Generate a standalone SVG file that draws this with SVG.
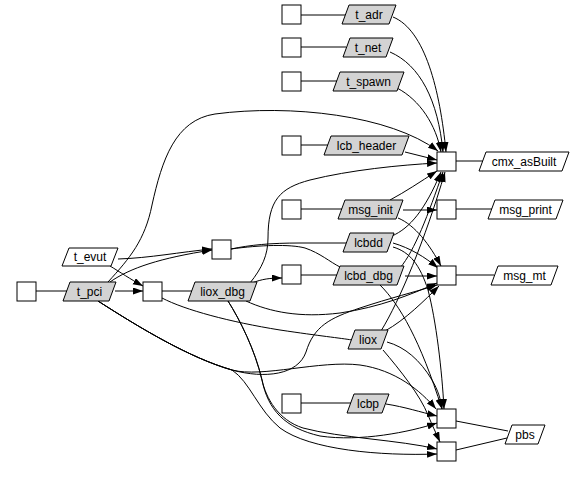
<svg xmlns="http://www.w3.org/2000/svg" width="585" height="481" viewBox="0 0 585 481">
<style>
.sq{fill:#fff;stroke:#000;stroke-width:1}
.f{fill:#d3d3d3;stroke:#000;stroke-width:1}
.w{fill:#fff;stroke:#000;stroke-width:1}
text{font-family:"Liberation Sans",Arial,sans-serif;font-size:12px;text-anchor:middle;fill:#000}
#edges path{fill:none;stroke:#000;stroke-width:1}
#edges path.a{marker-end:url(#ah)}
</style>
<defs>
<marker id="ah" markerUnits="userSpaceOnUse" markerWidth="11" markerHeight="8" refX="10" refY="3.5" orient="auto">
<path d="M0,0 L10,3.5 L0,7 Z" fill="#000"/>
</marker>
</defs>
<rect width="585" height="481" fill="#fff"/>
<g id="edges">
<!-- producer lines (square to file) -->
<path d="M301,15 L345,15"/>
<path d="M301,47 L346,47"/>
<path d="M301,81 L337,81"/>
<path d="M301,145 L328,145"/>
<path d="M301,209 L342,209"/>
<path d="M36,291 L67,291"/>
<path d="M162,291 L192,291"/>
<path d="M231,249 C250,245 270,243 300,243 L346,243"/>
<path d="M231,249 C260,245 290,244 305,248 C320,253 330,262 340,267"/>
<path d="M162,298 C185,310 230,322 280,330 C320,336 340,338 352,340"/>
<path d="M301,275 L337,275"/>
<path d="M301,403 L351,403"/>
<path d="M456,161 L483,161"/>
<path d="M456,209 L492,209"/>
<path d="M456,275 L494,275"/>
<path d="M456,421 L508,431"/>
<path d="M456,450 L507,438"/>
<!-- consumer edges (file to square) -->
<path class="a" d="M393,17 C425,30 440,90 446,152"/>
<path class="a" d="M390,52 C420,65 438,100 443,152"/>
<path class="a" d="M397,88 C420,100 436,125 441,152"/>
<path class="a" d="M108,282 C130,258 145,240 152,205 C162,160 175,120 215,114 C290,104 390,115 438,151"/>
<path class="a" d="M405,152 L437,160"/>
<path class="a" d="M250,283 C262,268 268,255 268,238 C268,200 280,188 310,180 C350,170 400,165 437,163"/>
<path class="a" d="M390,200 C405,192 420,182 437,171"/>
<path class="a" d="M392,236 C410,228 425,210 441,172"/>
<path class="a" d="M400,268 C415,250 428,215 443,172"/>
<path class="a" d="M381,331 C400,300 425,240 445,172"/>
<path class="a" d="M403,210 L437,210"/>
<path class="a" d="M398,218 C415,225 430,245 441,266"/>
<path class="a" d="M393,243 C410,248 425,257 438,268"/>
<path class="a" d="M393,247 C410,252 420,265 428,290 C436,320 442,370 444,409"/>
<path class="a" d="M405,276 L437,276"/>
<path class="a" d="M380,285 C400,305 420,340 442,409"/>
<path class="a" d="M252,283 C262,279 270,278 282,278"/>
<path class="a" d="M246,301 C270,312 300,318 340,313 C380,307 410,295 437,283"/>
<path class="a" d="M228,301 C240,320 255,350 262,380 C268,410 285,428 320,436 C360,442 410,432 437,423"/>
<path class="a" d="M228,301 C240,320 255,350 262,380 C266,398 278,420 303,428 C340,438 400,440 437,449"/>
<path class="a" d="M98,301 C140,328 190,358 232,370 C265,379 298,375 306,352 C314,326 330,318 360,308 C390,298 415,292 437,285"/>
<path class="a" d="M98,301 C140,328 190,358 232,370 C262,378 320,360 360,365 C395,370 420,390 436,409"/>
<path class="a" d="M98,301 C140,328 190,358 232,370 C250,382 258,410 280,428 C310,450 380,456 437,454"/>
<path class="a" d="M385,331 C405,320 425,300 439,286"/>
<path class="a" d="M387,342 C405,347 420,360 432,380 C438,390 441,400 442,409"/>
<path class="a" d="M383,350 C400,370 420,395 428,415 C432,425 436,433 440,442"/>
<path class="a" d="M386,404 C405,407 420,412 437,416"/>
<path class="a" d="M110,266 C120,272 130,279 143,286"/>
<path class="a" d="M115,291 L143,291"/>
<path class="a" d="M118,259 C150,258 180,252 212,249"/>
<path class="a" d="M110,282 C130,268 160,258 212,250"/>
</g>
<g id="sq_t_adr"><rect class="sq" x="282" y="5" width="19" height="19"/></g>
<g id="t_adr"><path class="f" d="M349,5 L396,5 L389,24 L342,24 Z"/><text x="369" y="19">t_adr</text></g>
<g id="sq_t_net"><rect class="sq" x="282" y="38" width="19" height="19"/></g>
<g id="t_net"><path class="f" d="M350,38 L393,38 L386,57 L343,57 Z"/><text x="368" y="52">t_net</text></g>
<g id="sq_t_spawn"><rect class="sq" x="282" y="72" width="19" height="19"/></g>
<g id="t_spawn"><path class="f" d="M340,72 L404,72 L397,91 L333,91 Z"/><text x="368.5" y="86">t_spawn</text></g>
<g id="sq_lcb_header"><rect class="sq" x="282" y="136" width="19" height="19"/></g>
<g id="lcb_header"><path class="f" d="M331,136 L409,136 L402,155 L324,155 Z"/><text x="366.5" y="150">lcb_header</text></g>
<g id="sq_cmx"><rect class="sq" x="437" y="152" width="19" height="19"/></g>
<g id="cmx_asBuilt"><path class="w" d="M486,152 L569,152 L562,171 L479,171 Z"/><text x="524" y="166">cmx_asBuilt</text></g>
<g id="sq_msg_init"><rect class="sq" x="282" y="200" width="19" height="19"/></g>
<g id="msg_init"><path class="f" d="M345,200 L403,200 L396,219 L338,219 Z"/><text x="370.5" y="214">msg_init</text></g>
<g id="sq_msg_print"><rect class="sq" x="437" y="200" width="19" height="19"/></g>
<g id="msg_print"><path class="w" d="M495,200 L563,200 L556,219 L488,219 Z"/><text x="525.5" y="214">msg_print</text></g>
<g id="t_evut"><path class="w" d="M69,248 L118,248 L111,266 L62,266 Z"/><text x="90" y="261">t_evut</text></g>
<g id="sq_t_pci"><rect class="sq" x="17" y="282" width="19" height="19"/></g>
<g id="t_pci"><path class="f" d="M70,282 L116,282 L109,301 L63,301 Z"/><text x="89.5" y="296">t_pci</text></g>
<g id="sq_liox_dbg"><rect class="sq" x="143" y="282" width="19" height="19"/></g>
<g id="liox_dbg"><path class="f" d="M195,282 L257,282 L250,301 L188,301 Z"/><text x="222.5" y="296">liox_dbg</text></g>
<g id="sq_lcbdd"><rect class="sq" x="212" y="240" width="19" height="19"/></g>
<g id="lcbdd"><path class="f" d="M350,233 L394,233 L387,252 L343,252 Z"/><text x="368.5" y="247">lcbdd</text></g>
<g id="sq_lcbd_dbg"><rect class="sq" x="282" y="265" width="19" height="19"/></g>
<g id="lcbd_dbg"><path class="f" d="M340,266 L404,266 L397,285 L333,285 Z"/><text x="368.5" y="280">lcbd_dbg</text></g>
<g id="sq_msg_mt"><rect class="sq" x="437" y="266" width="19" height="19"/></g>
<g id="msg_mt"><path class="w" d="M498,266 L558,266 L551,285 L491,285 Z"/><text x="524.5" y="280">msg_mt</text></g>
<g id="liox"><path class="f" d="M355,330 L388,330 L381,349 L348,349 Z"/><text x="368" y="344">liox</text></g>
<g id="sq_lcbp"><rect class="sq" x="282" y="394" width="19" height="19"/></g>
<g id="lcbp"><path class="f" d="M354,394 L389,394 L382,413 L347,413 Z"/><text x="368" y="408">lcbp</text></g>
<g id="sq_pbs_1"><rect class="sq" x="437" y="409" width="19" height="19"/></g>
<g id="sq_pbs_2"><rect class="sq" x="437" y="442" width="19" height="19"/></g>
<g id="pbs"><path class="w" d="M512,425 L545,425 L538,444 L505,444 Z"/><text x="525" y="439">pbs</text></g>
</svg>
